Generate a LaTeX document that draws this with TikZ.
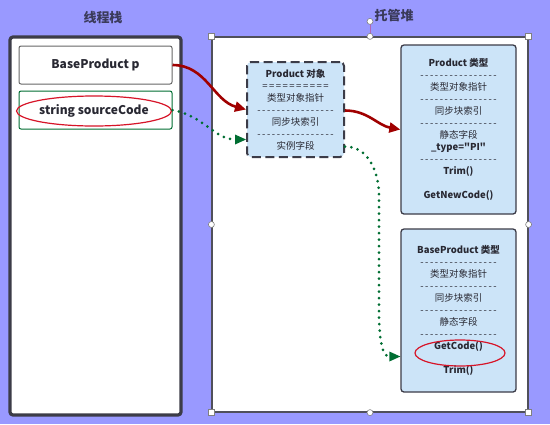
\documentclass[tikz,border=0pt]{standalone}
\usepackage{fontspec}
\setmainfont{Noto Sans CJK SC}[Ligatures=TeXOff]
\usetikzlibrary{shapes.geometric,arrows.meta}
\definecolor{bg}{RGB}{153,153,255}
\definecolor{titlec}{RGB}{58,58,90}
\definecolor{txt}{RGB}{40,40,50}
\definecolor{lblue}{RGB}{204,228,248}
\definecolor{dred}{RGB}{160,0,0}
\definecolor{dgreen}{RGB}{0,110,50}
\definecolor{ered}{RGB}{215,20,40}
\definecolor{frame}{RGB}{60,60,72}
\tikzset{
  title/.style={font=\fontsize{13}{15}\selectfont\bfseries, text=titlec},
  stackbox/.style={draw=frame, line width=3.2pt, fill=white, rounded corners=3pt, inner sep=0},
  heapbox/.style={draw=frame!90, line width=1.2pt, fill=white, inner sep=0},
  varbox/.style={rounded corners=2pt, fill=white, line width=1pt, inner sep=0, minimum width=153pt, minimum height=38pt, font=\fontsize{12}{14}\selectfont\bfseries, text=txt},
  objbox/.style={draw=frame, line width=2pt, dash pattern=on 9pt off 4.5pt, fill=lblue, rounded corners=4pt, inner sep=0, align=center, text=txt, font=\fontsize{9.5}{12}\selectfont},
  typebox/.style={draw=frame, line width=1.3pt, fill=lblue, rounded corners=3pt, inner sep=0, align=center, text=txt, font=\fontsize{9.5}{12}\selectfont},
  redell/.style={ellipse, draw=ered, line width=1.2pt, inner sep=0},
  refarrow/.style={draw=dred, line width=2.6pt, -{Triangle[length=11pt,width=10pt]}},
  valarrow/.style={draw=dgreen, line width=3pt, line cap=round, dash pattern=on 0pt off 6.5pt, -{Triangle[length=11pt,width=10pt,fill=dgreen,line width=0pt]}},
  sqhandle/.style={draw=gray, fill=white, line width=0.6pt, minimum size=6pt, inner sep=0},
  cirhandle/.style={circle, draw=gray, fill=white, line width=0.6pt, minimum size=6pt, inner sep=0},
}
\newcommand{\dl}{-\,-\,-\,-\,-\,-\,-\,-\,-\,-\,-\,-\,-\,-\,-\,-}
\newcommand{\eql}{=\kern1.5pt=\kern1.5pt=\kern1.5pt=\kern1.5pt=\kern1.5pt=\kern1.5pt=\kern1.5pt=\kern1.5pt=\kern1.5pt=}
\begin{document}
\begin{tikzpicture}[x=1pt,y=-1pt]
\useasboundingbox (0,0) rectangle (550,424);
\fill[bg] (0,0) rectangle (550,424);

% titles
\node[title] (t1) at (103,18) {线程栈};
\node[title] (t2) at (394,16) {托管堆};

% stack
\node[stackbox, minimum width=171pt, minimum height=378pt] (stack) at (95.5,226) {};
\node[varbox, draw=gray!80!black] (bp) at (95.5,65) {BaseProduct p};
\node[varbox, draw=dgreen] (sc) at (95.5,110) {};
\node[redell, minimum width=141pt, minimum height=30pt, font=\fontsize{12}{14}\selectfont\bfseries, text=txt] (scell) at (94,111) {string sourceCode};

% heap
\node[heapbox, minimum width=316pt, minimum height=375pt] (heap) at (370,224.5) {};
\draw[draw=violet!60, line width=0.8pt] (heap.north) -- ++(0,-15) coordinate (rot);
\node[cirhandle] (h0) at (rot) {};
\node[sqhandle] (h1) at (heap.north west) {};
\node[sqhandle] (h2) at (heap.north east) {};
\node[sqhandle] (h3) at (heap.south west) {};
\node[sqhandle] (h4) at (heap.south east) {};
\node[cirhandle] (h5) at (heap.north) {};
\node[cirhandle] (h6) at (heap.south) {};
\node[cirhandle] (h7) at (heap.west) {};
\node[cirhandle] (h8) at (heap.east) {};

% product object
\node[objbox, minimum width=97pt, minimum height=95pt] (obj) at (295.5,109.5)
 {\textbf{Product 对象}\\ \eql\\ 类型对象指针\\ \dl\\ 同步块索引\\ \dl\\ 实例字段};

% product type
\node[typebox, minimum width=115pt, minimum height=169pt] (ptype) at (458.5,129.5)
 {\textbf{Product 类型}\\ \dl\\ 类型对象指针\\ \dl\\ 同步块索引\\ \dl\\ 静态字段\\ \textbf{\_type="PI"}\\ \dl\\ \textbf{Trim()}\\[12pt] \textbf{GetNewCode()}};

% base product type
\node[typebox, minimum width=115pt, minimum height=163pt] (btype) at (458.5,310.5)
 {\textbf{BaseProduct 类型}\\ \dl\\ 类型对象指针\\ \dl\\ 同步块索引\\ \dl\\ 静态字段\\ \dl\\ \textbf{GetCode()}\\[12pt] \textbf{Trim()}};
\node[redell, minimum width=90pt, minimum height=26pt] (gcell) at (460,353) {};

% connectors
\draw[refarrow] (bp.east) to[out=0, in=165] (obj.west);
\draw[valarrow] (sc.east) to[out=-10, in=180] ([yshift=-30pt]obj.west);
\draw[refarrow] ([yshift=-1pt]obj.east) to[out=0, in=170] (ptype.west);
\coordinate (bend) at (379,195);
\draw[valarrow] ([yshift=-37pt]obj.east) to[out=0, in=90] (bend) -- (379,310) to[out=-90, in=180] ([yshift=-46pt]btype.west);
\end{tikzpicture}
\end{document}
